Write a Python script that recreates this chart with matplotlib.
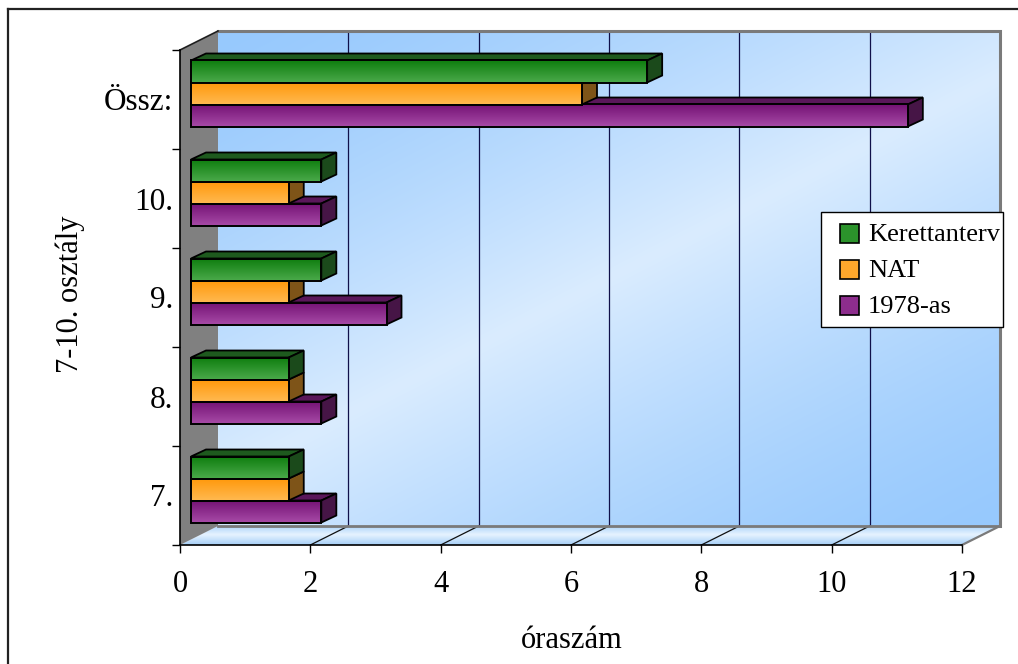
import numpy as np
import matplotlib
matplotlib.use("Agg")
import matplotlib.pyplot as plt
from matplotlib.patches import Polygon, Rectangle
from matplotlib.transforms import Affine2D
from matplotlib.lines import Line2D
from matplotlib.colors import to_rgb

# ---- data -------------------------------------------------------------
categories = ["7.", "8.", "9.", "10.", "Össz:"]
kerettanterv = [1.5, 1.5, 2, 2, 7]
nat = [1.5, 1.5, 1.5, 1.5, 6]
tanterv_1978 = [2, 2, 3, 2, 11]
series_names = ["Kerettanterv", "NAT", "1978-as"]
x_ticks = [0, 2, 4, 6, 8, 10, 12]
x_label = "óraszám"
y_label = "7-10. osztály"

# ---- styling ----------------------------------------------------------
plt.rcParams["font.family"] = ["Liberation Serif", "DejaVu Serif"]

# (front-top, front-bottom, top face, side face)
bar_styles = {
    "Kerettanterv": ("#0E7D0E", "#48A848", "#1E5A1E", "#1B4A1B"),
    "NAT": ("#FF980A", "#FFB84E", "#A86A10", "#7E5418"),
    "1978-as": ("#741274", "#A548A5", "#5A175A", "#461546"),
}

W, H = 1018, 664
fig = plt.figure(figsize=(W / 100, H / 100), dpi=100)
fig.patch.set_facecolor("white")
ax = fig.add_axes([180 / W, 119 / H, 782 / W, 495 / H])
ax.set_xlim(0, 12)
ax.set_ylim(0, len(categories))
ax.patch.set_visible(False)

# pixel -> data helpers
p0 = ax.transData.transform((0, 0))
p1 = ax.transData.transform((1, 1))
sx, sy = p1 - p0


def dpx(px, py):
    return px / sx, py / sy


n_cat = len(categories)
xmax = x_ticks[-1]
WX, WY = dpx(38, 19)          # depth of the chart walls
BX, BY = dpx(15, 7)           # depth of a single bar
bar_tr = ax.transData + Affine2D().translate(11, 6)


def lerp(c1, c2, t):
    c1, c2 = np.array(to_rgb(c1)), np.array(to_rgb(c2))
    return c1[None, :] * (1 - t[..., None]) + c2[None, :] * t[..., None]


# ---- back wall ---------------------------------------------------------
u = np.linspace(0, 1, 240)[None, :]
v = np.linspace(0, 1, 160)[:, None]
s = 0.45 * u + 0.55 * v
k = 1 - np.abs(2 * s - 1)
wall_img = lerp("#97C9FD", "#DAECFF", np.clip(k, 0, 1) ** 1.4)
back_poly = Polygon([(WX, WY), (xmax + WX, WY), (xmax + WX, n_cat + WY), (WX, n_cat + WY)],
                    closed=True, facecolor="none", edgecolor="none", zorder=0.4,
                    clip_on=False)
ax.add_patch(back_poly)
im = ax.imshow(wall_img, extent=[WX, xmax + WX, WY, n_cat + WY], aspect="auto",
               origin="upper", zorder=0.5, interpolation="bilinear")
im.set_clip_path(back_poly)
im.set_clip_box(fig.bbox)

# floor
floor_poly = Polygon([(0, 0), (xmax, 0), (xmax + WX, WY), (WX, WY)], closed=True,
                     facecolor="none", edgecolor="none", zorder=0.6, clip_on=False)
ax.add_patch(floor_poly)
tf = np.linspace(0, 1, 40)
floor_col = np.where(tf[:, None] < 0.45,
                     lerp("#B0D6FA", "#E6F3FF", np.clip(tf / 0.45, 0, 1)),
                     lerp("#E6F3FF", "#A6CFF7", np.clip((tf - 0.45) / 0.55, 0, 1)))
floor_img = np.repeat(floor_col[:, None, :], 4, axis=1)
im2 = ax.imshow(floor_img, extent=[0, xmax + WX, 0, WY], aspect="auto",
                origin="upper", zorder=0.7, interpolation="bilinear")
im2.set_clip_path(floor_poly)
im2.set_clip_box(fig.bbox)

# left wall
ax.add_patch(Polygon([(0, 0), (WX, WY), (WX, n_cat + WY), (0, n_cat)], closed=True,
                     facecolor="#808080", edgecolor="none", zorder=0.8, clip_on=False))
ax.plot([0, WX], [n_cat, n_cat + WY], color="#202020", lw=1.2, zorder=1.2,
        clip_on=False)

# wall borders
ax.plot([WX, xmax + WX, xmax + WX], [n_cat + WY, n_cat + WY, WY], color="#7A7A7A",
        lw=2.2, zorder=1.1, clip_on=False, solid_joinstyle="miter")
ax.plot([WX, xmax + WX], [WY, WY], color="#7A7A7A", lw=2.0, zorder=1.1, clip_on=False)
ax.plot([xmax, xmax + WX], [0, WY], color="#7A7A7A", lw=1.6, zorder=1.1, clip_on=False)

# gridlines on back wall and floor
for xv in x_ticks[1:-1]:
    ax.plot([xv + WX, xv + WX], [WY, n_cat + WY], color="#10104A", lw=0.9,
            zorder=1.0, clip_on=False)
    ax.plot([xv, xv + WX], [0, WY], color="#101010", lw=0.9, zorder=1.0,
            clip_on=False)

# ---- bars --------------------------------------------------------------
bh = 2 / 9
series = [("1978-as", tanterv_1978, -bh), ("NAT", nat, 0.0), ("Kerettanterv", kerettanterv, bh)]
centers = np.arange(n_cat) + 0.5
z = 2.0
for ci in range(n_cat):
    for name, vals, off in series:
        top_c, bot_c, topface_c, side_c = bar_styles[name]
        val = vals[ci]
        y0 = centers[ci] + off - bh / 2
        y1 = y0 + bh
        # top face
        ax.add_patch(Polygon([(0, y1), (val, y1), (val + BX, y1 + BY), (BX, y1 + BY)],
                             closed=True, facecolor=topface_c, edgecolor="black",
                             lw=1.3, transform=bar_tr, zorder=z, clip_on=False,
                             joinstyle="miter"))
        # side face
        ax.add_patch(Polygon([(val, y0), (val + BX, y0 + BY), (val + BX, y1 + BY), (val, y1)],
                             closed=True, facecolor=side_c, edgecolor="black",
                             lw=1.3, transform=bar_tr, zorder=z + 0.01, clip_on=False,
                             joinstyle="miter"))
        # front face with vertical gradient
        ax.barh([centers[ci] + off], [val], height=bh, left=0, color="none",
                edgecolor="black", linewidth=1.4, transform=bar_tr,
                zorder=z + 0.03, clip_on=False)
        grad = lerp(top_c, bot_c, np.linspace(0, 1, 30))[:, None, :]
        gim = ax.imshow(grad, extent=[0, val, y0, y1], aspect="auto", origin="upper",
                        transform=bar_tr, zorder=z + 0.02, interpolation="bilinear")
        gim.set_clip_on(False)
        z += 0.1

ax.set_xlim(0, 12)
ax.set_ylim(0, n_cat)

# ---- axes --------------------------------------------------------------
for sname in ["top", "right"]:
    ax.spines[sname].set_visible(False)
for sname in ["left", "bottom"]:
    ax.spines[sname].set_linewidth(1.2)
    ax.spines[sname].set_zorder(3)

ax.set_xticks(x_ticks)
ax.set_xticklabels([str(t) for t in x_ticks])
ax.tick_params(axis="x", direction="out", length=6, width=1.0, pad=12, labelsize=22)
ax.set_yticks(np.arange(n_cat + 1))
ax.set_yticklabels([])
ax.set_yticks(centers, minor=True)
ax.set_yticklabels(categories, minor=True)
ax.tick_params(axis="y", which="major", direction="out", length=6, width=1.0)
ax.tick_params(axis="y", which="minor", length=0, pad=5, labelsize=22.5)

fig.text(70 / W, 1 - 294 / H, y_label, rotation=90, ha="center", va="center", fontsize=22)
fig.text(572 / W, 1 - 640 / H, x_label, ha="center", va="center", fontsize=22)

# ---- legend (drawn in figure pixels) ------------------------------------
def fx(px):
    return px / W


def fy(py):
    return 1 - py / H


fig.add_artist(Rectangle((fx(821), fy(327)), fx(1003) - fx(821), fy(212) - fy(327),
                         transform=fig.transFigure, facecolor="white",
                         edgecolor="black", lw=1.0, zorder=5))
for i, name in enumerate(series_names):
    cy = 233.5 + 36 * i
    swatch = lerp(bar_styles[name][0], bar_styles[name][1], np.array([0.5]))[0]
    fig.add_artist(Rectangle((fx(840), fy(cy + 9.5)), fx(859) - fx(840), fy(cy - 9.5) - fy(cy + 9.5),
                             transform=fig.transFigure, facecolor=swatch,
                             edgecolor="black", lw=1.2, zorder=6))
    fig.text(fx(868), fy(cy + 1), name, ha="left", va="center", fontsize=19, zorder=6)

# outer frame
fig.add_artist(Line2D([8 / W, 8 / W], [0, 1 - 9 / H], transform=fig.transFigure,
                      color="#222222", lw=1.6))
fig.add_artist(Line2D([8 / W, 1], [1 - 9 / H, 1 - 9 / H], transform=fig.transFigure,
                      color="#222222", lw=1.6))

fig.savefig("out.png", dpi=100)
